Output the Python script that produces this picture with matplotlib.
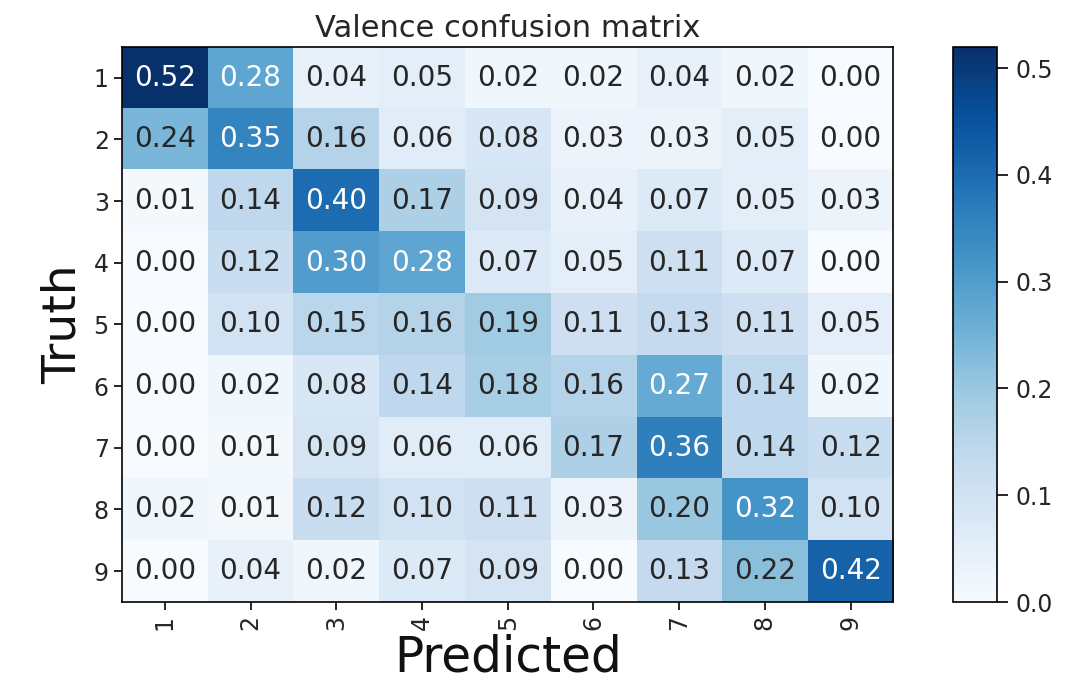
import matplotlib
matplotlib.use("Agg")
import matplotlib.pyplot as plt
import numpy as np

labels = ["1", "2", "3", "4", "5", "6", "7", "8", "9"]
row1 = [0.52, 0.28, 0.04, 0.05, 0.02, 0.02, 0.04, 0.02, 0.00]
row2 = [0.24, 0.35, 0.16, 0.06, 0.08, 0.03, 0.03, 0.05, 0.00]
row3 = [0.01, 0.14, 0.40, 0.17, 0.09, 0.04, 0.07, 0.05, 0.03]
row4 = [0.00, 0.12, 0.30, 0.28, 0.07, 0.05, 0.11, 0.07, 0.00]
row5 = [0.00, 0.10, 0.15, 0.16, 0.19, 0.11, 0.13, 0.11, 0.05]
row6 = [0.00, 0.02, 0.08, 0.14, 0.18, 0.16, 0.27, 0.14, 0.02]
row7 = [0.00, 0.01, 0.09, 0.06, 0.06, 0.17, 0.36, 0.14, 0.12]
row8 = [0.02, 0.01, 0.12, 0.10, 0.11, 0.03, 0.20, 0.32, 0.10]
row9 = [0.00, 0.04, 0.02, 0.07, 0.09, 0.00, 0.13, 0.22, 0.42]

cm = np.array([row1, row2, row3, row4, row5, row6, row7, row8, row9])

fig = plt.figure(figsize=(10.7, 6.88), dpi=100)
ax = fig.add_axes([0.114, 0.125, 0.721, 0.807])
cax = fig.add_axes([0.891, 0.125, 0.041, 0.807])

im = ax.imshow(cm, cmap="Blues", aspect="auto", interpolation="nearest",
               vmin=0.0, vmax=cm.max())
cb = fig.colorbar(im, cax=cax)
cb.set_ticks([0.0, 0.1, 0.2, 0.3, 0.4, 0.5])
cb.ax.tick_params(labelsize=17, length=8, width=1.2, pad=5, labelcolor="#262626")
cb.outline.set_linewidth(1.2)

thresh = cm.max() / 2.0
for i in range(cm.shape[0]):
    for j in range(cm.shape[1]):
        ax.text(j, i, f"{cm[i, j]:.2f}", ha="center", va="center",
                fontsize=20, color="white" if cm[i, j] > thresh else "#262626")

ax.set_xticks(range(len(labels)))
ax.set_xticklabels(labels, rotation=90, fontsize=17, color="#262626")
ax.set_yticks(range(len(labels)))
ax.set_yticklabels(labels, fontsize=17, color="#262626")
ax.tick_params(length=6, width=1.2)
for s in ax.spines.values():
    s.set_linewidth(1.2)

ax.set_title("Valence confusion matrix", fontsize=22, pad=7, color="#262626")
ax.set_xlabel("Predicted", fontsize=35, labelpad=2, color="#111111")
ax.set_ylabel("Truth", fontsize=34, labelpad=6, color="#111111")

fig.savefig("out.png", dpi=100)
